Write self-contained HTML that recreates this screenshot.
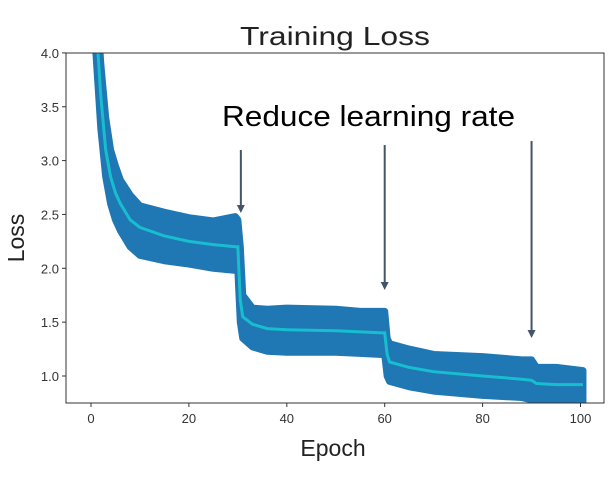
<!DOCTYPE html>
<html><head><meta charset="utf-8"><style>
body{margin:0;background:#fff;width:615px;height:472px;overflow:hidden}
svg text{font-family:"Liberation Sans",sans-serif}
</style></head><body>
<svg id="chart" width="615" height="472" viewBox="0 0 615 472">
<defs><clipPath id="clip"><rect x="66" y="53" width="538" height="350"/></clipPath></defs>
<text x="240" y="45" textLength="190" lengthAdjust="spacingAndGlyphs" font-size="26" fill="#222">Training Loss</text>
<g id="band-g" clip-path="url(#clip)"></g>
<g id="axes"></g>
<text x="222" y="126" textLength="293" lengthAdjust="spacingAndGlyphs" font-size="29" fill="#000">Reduce learning rate</text>
<g id="arrows"></g>
<text transform="translate(24,238) rotate(-90)" text-anchor="middle" font-size="23" fill="#222">Loss</text>
<text x="333" y="456" text-anchor="middle" font-size="23" fill="#222">Epoch</text>
</svg>
<script>
const epochs = [0.5,1,2,3,4,5,6,8,10,15,20,25,29.5,30,30.5,31,33,36,40,50,55,59.5,60,60.5,61,65,70,80,88,90,91,95,100.5];
const meanLoss = [5,4.3,3.6,3.1,2.85,2.7,2.6,2.45,2.38,2.3,2.25,2.22,2.2,2.2,1.7,1.55,1.48,1.44,1.43,1.42,1.41,1.4,1.4,1.2,1.13,1.08,1.04,1.0,0.97,0.96,0.93,0.92,0.92];
const upperLoss = [5.2,4.6,3.9,3.4,3.1,2.95,2.82,2.68,2.58,2.52,2.47,2.44,2.48,2.45,2.2,1.75,1.63,1.62,1.63,1.62,1.6,1.6,1.6,1.35,1.3,1.25,1.2,1.18,1.15,1.15,1.08,1.08,1.05];
const lowerLoss = [4.8,4.0,3.3,2.85,2.6,2.45,2.35,2.2,2.12,2.07,2.04,2.0,1.98,1.98,1.5,1.35,1.27,1.23,1.22,1.22,1.21,1.2,1.2,1.0,0.95,0.9,0.86,0.82,0.8,0.78,0.76,0.75,0.75];
const xTicks = [0,20,40,60,80,100];
const yTicks = [1.0,1.5,2.0,2.5,3.0,3.5,4.0];
const arrowEpochs = [30,60,90];
const arrowTops = [150,145,141];
const arrowTips = [213,290,338];
const X = v => 91 + (v - 0) * 4.895;
const Y = v => 376 - (v - 1.0) * 107.7;
const NS = "http://www.w3.org/2000/svg";
function mk(t, a, parent){const e=document.createElementNS(NS,t);for(const k in a)e.setAttribute(k,a[k]);parent.appendChild(e);return e;}
const bg = document.getElementById('band-g');
let pts = epochs.map((e,i)=>X(e)+','+Y(upperLoss[i]));
for(let i=epochs.length-1;i>=0;i--) pts.push(X(epochs[i])+','+Y(lowerLoss[i]));
const band = mk('polygon',{points:pts.join(' '),fill:'#1f77b4',stroke:'#1f77b4','stroke-width':7,'stroke-linejoin':'round'},bg);


const line = mk('polyline',{points:epochs.map((e,i)=>X(e)+','+Y(meanLoss[i])).join(' '),fill:'none',stroke:'#17becf','stroke-width':3},bg);


const ax = document.getElementById('axes');
const frame = mk('rect',{x:66,y:53,width:538,height:350,fill:'none',stroke:'#333','stroke-width':1},ax);


xTicks.forEach(t=>{
  mk('line',{x1:X(t),x2:X(t),y1:403,y2:407,stroke:'#333'},ax);
  const tx = mk('text',{x:X(t),y:423,'text-anchor':'middle','font-size':13,fill:'#333'},ax);
  tx.textContent = t;
  
  
});
yTicks.forEach(t=>{
  mk('line',{x1:62,x2:66,y1:Y(t),y2:Y(t),stroke:'#333'},ax);
  const tx = mk('text',{x:59,y:Y(t)+5,'text-anchor':'end','font-size':13,fill:'#333'},ax);
  tx.textContent = t.toFixed(1);
  
  
});
const ar = document.getElementById('arrows');
arrowEpochs.forEach((e,i)=>{
  const x = X(e)+(i==0?3:0);
  const g = mk('g',{},ar);
  
  
  mk('line',{x1:x,x2:x,y1:arrowTops[i],y2:arrowTips[i]-6,stroke:'#44546a','stroke-width':2},g);
  mk('polygon',{points:`${x-4},${arrowTips[i]-8} ${x+4},${arrowTips[i]-8} ${x},${arrowTips[i]}`,fill:'#44546a'},g);
});
</script>
</body></html>
